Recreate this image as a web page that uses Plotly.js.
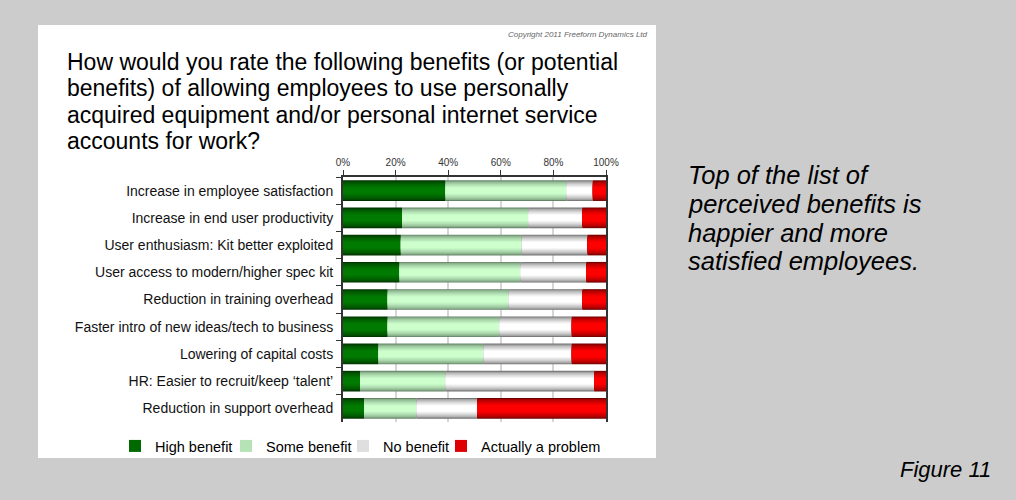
<!DOCTYPE html>
<html>
<head>
<meta charset="utf-8">
<script src="https://cdn.plot.ly/plotly-3.0.1.min.js"></script>
<style>
html,body{margin:0;padding:0;background:#cccccc;}
#chart{width:1016px;height:500px;}
</style>
</head>
<body>
<div id="chart"></div>
<script>
// ---- data ----
const categories = [
  'Increase in employee satisfaction',
  'Increase in end user productivity',
  'User enthusiasm: Kit better exploited',
  'User access to modern/higher spec kit',
  'Reduction in training overhead',
  'Faster intro of new ideas/tech to business',
  'Lowering of capital costs',
  'HR: Easier to recruit/keep \u2018talent\u2019',
  'Reduction in support overhead'
];
const highBenefit     = [39, 22.5, 22, 21.5, 17, 17, 13.5, 6.5, 8];
const someBenefit     = [46, 48, 46, 46, 46, 42.5, 40, 32.5, 20];
const noBenefit       = [10, 20.5, 25, 25, 28, 27.5, 33.5, 56.5, 23];
const actuallyProblem = [5, 9, 7, 7.5, 9, 13, 13, 4.5, 49];
const seriesNames = ['High benefit', 'Some benefit', 'No benefit', 'Actually a problem'];
const tickVals = [0, 20, 40, 60, 80, 100];
const tickText = ['0%', '20%', '40%', '60%', '80%', '100%'];
const titleLines = [
  'How would you rate the following benefits (or potential',
  'benefits) of allowing employees to use personally',
  'acquired equipment and/or personal internet service',
  'accounts for work?'
];
const noteLines = [
  'Top of the list of',
  'perceived benefits is',
  'happier and more',
  'satisfied employees.'
];
const copyrightText = 'Copyright 2011 Freeform Dynamics Ltd';
const figureText = 'Figure 11';

// ---- styling ----
const FONT = '"Liberation Sans", Arial, Helvetica, sans-serif';
const edgeColors   = ['#003000', '#66866a', '#727272', '#700000'];
const centerColors = ['#007a00', '#ccffcc', '#ffffff', '#ff0000'];
const legendIds = ['legend', 'legend2', 'legend3', 'legend4'];
const BAR_W = 0.76, LAYERS = 9;

function hex2rgb(h){ return [1,3,5].map(i => parseInt(h.substr(i,2),16)); }
function mix(a, b, t){
  const A = hex2rgb(a), B = hex2rgb(b);
  const c = A.map((v,i) => Math.round(v + (B[i]-v)*t));
  return 'rgb(' + c.join(',') + ')';
}

const seriesValues = [highBenefit, someBenefit, noBenefit, actuallyProblem];
let cum = categories.map(() => 0);
const traces = [];
seriesValues.forEach((vals, s) => {
  const base = cum.slice();
  for (let k = 0; k < LAYERS; k++) {
    const t = k / (LAYERS - 1);
    traces.push({
      type: 'bar', orientation: 'h',
      y: categories, x: vals, base: base,
      width: BAR_W * (1 - 0.7 * t),
      name: seriesNames[s],
      marker: {color: mix(edgeColors[s], centerColors[s], Math.pow(t, 0.55)), line: {width: 0}},
      showlegend: k === LAYERS - 4,
      legend: legendIds[s],
      hoverinfo: 'skip'
    });
  }
  cum = cum.map((v, i) => v + vals[i]);
});

// ---- layout geometry (pixels) ----
const W = 1016, H = 500;
const M = {l: 343, r: 410, t: 177, b: 78};
const PW = W - M.l - M.r, PH = H - M.t - M.b;
const px = x => (x - M.l) / PW;
const py = y => (H - M.b - y) / PH;

const annotations = [];
titleLines.forEach((line, i) => {
  annotations.push({xref:'paper', yref:'paper', x: px(65), y: py(62 + i*26.4),
    xanchor:'left', yanchor:'middle', showarrow:false, text: line,
    font:{family: FONT, size: 23, color:'#000'}});
});
noteLines.forEach((line, i) => {
  annotations.push({xref:'paper', yref:'paper', x: px(686), y: py(175 + i*28.8),
    xanchor:'left', yanchor:'middle', showarrow:false, text: '<i>' + line + '</i>',
    font:{family: FONT, size: 25.5, color:'#000'}});
});
annotations.push({xref:'paper', yref:'paper', x: px(650), y: py(34),
  xanchor:'right', yanchor:'middle', showarrow:false, text: '<i>' + copyrightText + '</i>',
  font:{family: FONT, size: 8, color:'#666'}});
annotations.push({xref:'paper', yref:'paper', x: px(993), y: py(469),
  xanchor:'right', yanchor:'middle', showarrow:false, text: '<i>' + figureText + '</i>',
  font:{family: FONT, size: 22, color:'#000'}});

const legendTextStarts = [155, 266, 383, 481];
const layout = {
  width: W, height: H,
  margin: M,
  paper_bgcolor: '#cccccc',
  plot_bgcolor: '#ffffff',
  barmode: 'overlay',
  font: {family: FONT, color: '#000'},
  xaxis: {
    side: 'top', range: [0, 100], tickvals: tickVals, ticktext: tickText,
    showgrid: true, gridcolor: '#d6d6d6', gridwidth: 2, zeroline: false,
    showline: true, linecolor: '#333', linewidth: 2,
    ticks: 'outside', ticklen: 5, tickcolor: '#333', tickwidth: 1,
    tickfont: {family: FONT, size: 10, color: '#333'}, fixedrange: true
  },
  yaxis: {
    type: 'category', categoryorder: 'array', categoryarray: categories,
    autorange: 'reversed', tickson: 'boundaries',
    ticks: 'outside', ticklen: 5, tickcolor: '#333', tickwidth: 1,
    showline: true, linecolor: '#333', linewidth: 2, mirror: true,
    showgrid: false, zeroline: false, ticklabelstandoff: 5,
    tickfont: {family: FONT, size: 14, color: '#111'}, fixedrange: true
  },
  shapes: [{type:'rect', xref:'paper', yref:'paper', layer:'below',
    x0: px(38), x1: px(656), y0: py(458), y1: py(25),
    fillcolor:'#ffffff', line:{width:0}}],
  annotations: annotations
};
legendIds.forEach((id, i) => {
  layout[id] = {xref:'container', yref:'container', x: (legendTextStarts[i] - 40) / W, y: 1 - 446 / H,
    xanchor:'left', yanchor:'middle', orientation:'h', bgcolor:'rgba(0,0,0,0)',
    font:{family: FONT, size: 14.5, color:'#000'}};
});

Plotly.newPlot('chart', traces, layout, {displayModeBar: false, staticPlot: true});
</script>
</body>
</html>
